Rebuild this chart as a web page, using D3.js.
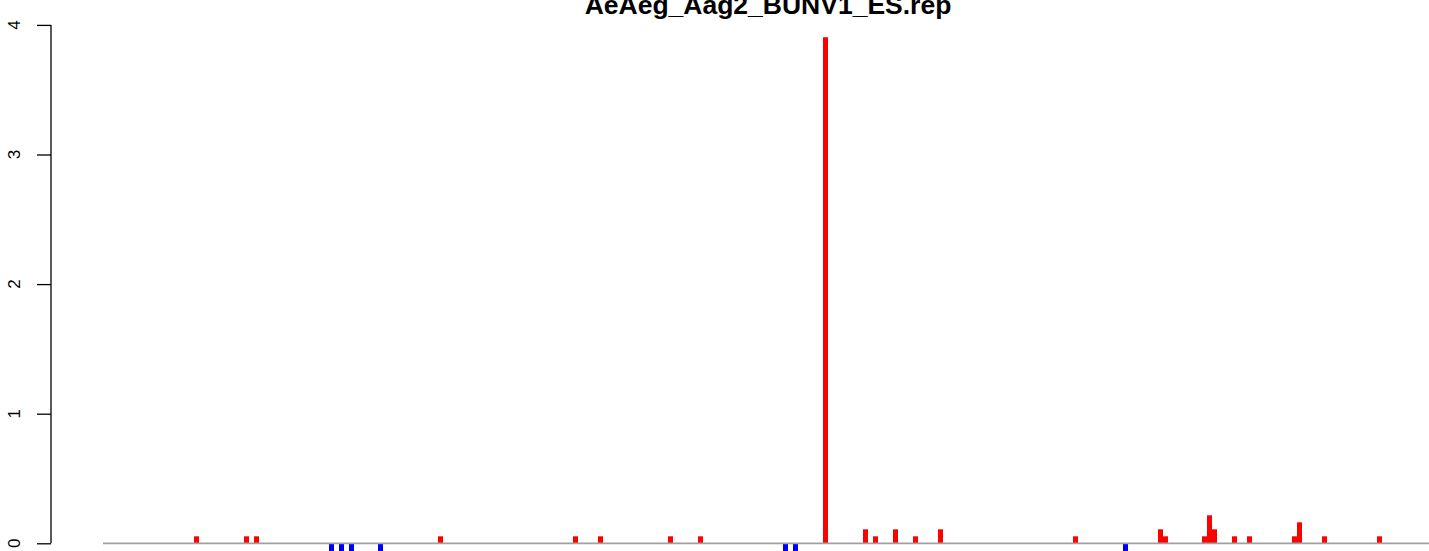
<!DOCTYPE html>
<html>
<head>
<meta charset="utf-8">
<script src="https://cdn.jsdelivr.net/npm/d3@7"></script>
<style>
  html, body { margin: 0; padding: 0; background: #fff; }
  svg { display: block; }
  text { font-family: "Liberation Sans", Arial, Helvetica, sans-serif; }
</style>
</head>
<body>
<div id="chart"></div>
<script>
// ---- data ----
const title = "AeAeg_Aag2_BUNV1_ES.rep";
const yTicks = [0, 1, 2, 3, 4];
// positive (red) series: positions and values
const redPos = [93.5, 143.5, 153.5, 337.5, 472.5, 497.5, 567.5, 597.5, 722.5, 762.5, 772.5, 792.5, 812.5, 837.5, 972.5, 1057.5, 1062.5, 1101.5, 1106.5, 1111.5, 1131.5, 1146.5, 1191.5, 1196.5, 1221.5, 1276.5];
const redVal = [0.054, 0.054, 0.054, 0.054, 0.054, 0.054, 0.054, 0.054, 3.905, 0.108, 0.054, 0.108, 0.054, 0.108, 0.054, 0.108, 0.054, 0.054, 0.216, 0.108, 0.054, 0.054, 0.054, 0.162, 0.054, 0.054];
// negative (blue) series
const bluePos = [228.5, 238.5, 248.5, 277.5, 682.5, 692.5, 1022.5];
const blueVal = [-0.062, -0.062, -0.062, -0.062, -0.062, -0.062, -0.062];
const xDomain = [0, 1326];

// ---- layout ----
const W = 1429, H = 551;
const svg = d3.select("#chart").append("svg").attr("width", W).attr("height", H);

const x = d3.scaleLinear().domain(xDomain).range([103, 1429]);
const y = d3.scaleLinear().domain([0, 4]).range([543.3, 24.9]);
const barW = 5;

// y axis
const yAxis = d3.axisLeft(y).tickValues(yTicks).tickSize(14).tickPadding(0).tickFormat(d3.format("d"));
const gy = svg.append("g").attr("transform", "translate(51,0)").call(yAxis);
gy.select(".domain").attr("d", `M0,${y(4)}V${y(0)}`).attr("stroke", "#000").attr("stroke-width", 1.3);
gy.selectAll(".tick line").attr("stroke", "#000").attr("stroke-width", 1.3);
gy.selectAll(".tick text").remove();
yTicks.forEach(t => {
  svg.append("text")
    .attr("transform", `translate(20,${y(t)}) rotate(-90)`)
    .attr("text-anchor", "middle")
    .attr("font-size", 17)
    .attr("fill", "#000")
    .text(t);
});

// bars
const red = redPos.map((p, i) => ({p, v: redVal[i]}));
const blue = bluePos.map((p, i) => ({p, v: blueVal[i]}));
svg.append("g").selectAll("rect").data(red).join("rect")
  .attr("x", d => x(d.p) - barW / 2)
  .attr("width", barW)
  .attr("y", d => y(d.v))
  .attr("height", d => y(0) - y(d.v))
  .attr("fill", "#ff0000");
svg.append("g").selectAll("rect").data(blue).join("rect")
  .attr("x", d => x(d.p) - barW / 2)
  .attr("width", barW)
  .attr("y", d => y(0))
  .attr("height", d => y(d.v) - y(0))
  .attr("fill", "#0000ff");

// baseline
svg.append("line")
  .attr("x1", x(xDomain[0])).attr("x2", x(xDomain[1]))
  .attr("y1", y(0)).attr("y2", y(0))
  .attr("stroke", "#a0a0a0").attr("stroke-width", 1.8);

// title
svg.append("text")
  .attr("x", 768).attr("y", 14)
  .attr("text-anchor", "middle")
  .attr("font-size", 26.5)
  .attr("font-weight", "bold")
  .attr("fill", "#000")
  .text(title);
</script>
</body>
</html>
